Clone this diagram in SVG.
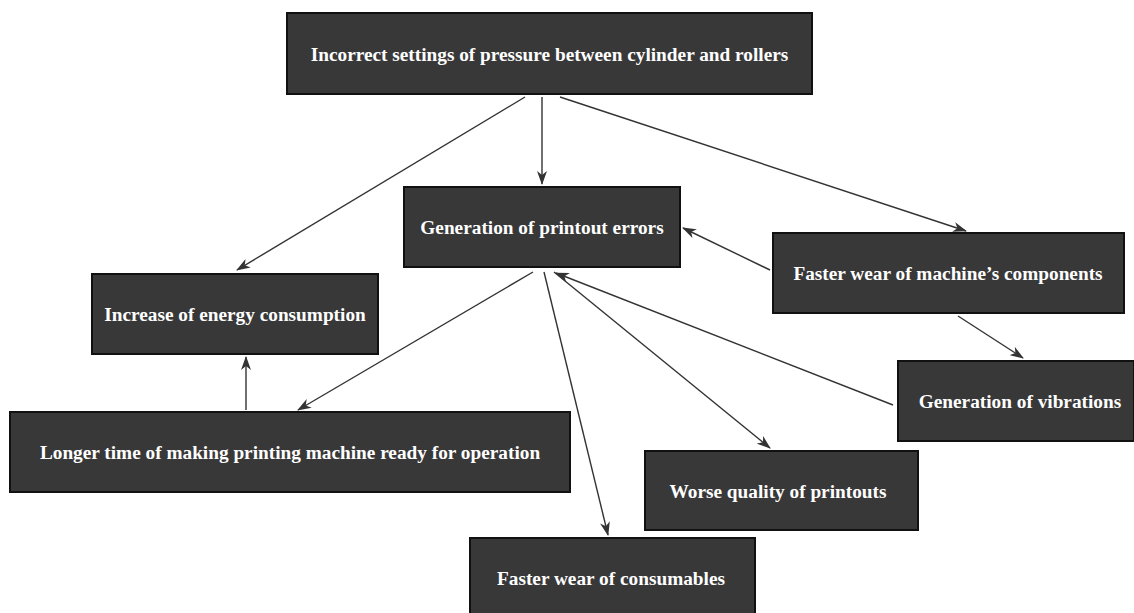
<svg xmlns="http://www.w3.org/2000/svg" width="1134" height="613" viewBox="0 0 1134 613">
<style>
.box{fill:#383838;stroke:#111;stroke-width:2}
.t{font-family:"Liberation Serif",serif;font-weight:bold;font-size:19.3px;fill:#fff;text-anchor:middle;dominant-baseline:central}
.c{stroke:#333;stroke-width:1.4;fill:none;marker-end:url(#ah)}
</style>
<defs>
<marker id="ah" viewBox="0 0 14 10" refX="13" refY="5" markerWidth="14" markerHeight="10" markerUnits="userSpaceOnUse" orient="auto">
<path d="M0,0 L14,5 L0,10 L4,5 Z" fill="#333"/>
</marker>
</defs>
<rect width="1134" height="613" fill="#fff"/>
<g id="connectors">
<line class="c" x1="525" y1="97" x2="237" y2="270"/>
<line class="c" x1="542" y1="97" x2="542" y2="184"/>
<line class="c" x1="560" y1="97" x2="966" y2="231"/>
<line class="c" x1="770" y1="270" x2="683" y2="228"/>
<line class="c" x1="958" y1="316" x2="1023" y2="358"/>
<line class="c" x1="893" y1="405" x2="556" y2="273"/>
<line class="c" x1="533" y1="272" x2="298" y2="410"/>
<line class="c" x1="544" y1="272" x2="608" y2="535"/>
<line class="c" x1="554" y1="272" x2="770" y2="448"/>
<line class="c" x1="246" y1="410" x2="246" y2="357"/>
</g>
<g id="n1"><rect class="box" x="287" y="13" width="525" height="81"/><text class="t" x="549.5" y="54">Incorrect settings of pressure between cylinder and rollers</text></g>
<g id="n2"><rect class="box" x="404" y="187" width="276" height="80"/><text class="t" x="542" y="227">Generation of printout errors</text></g>
<g id="n3"><rect class="box" x="773" y="233" width="351" height="80"/><text class="t" x="948" y="273">Faster wear of machine’s components</text></g>
<g id="n4"><rect class="box" x="92" y="274" width="286" height="80"/><text class="t" x="235" y="314">Increase of energy consumption</text></g>
<g id="n5"><rect class="box" x="898" y="361" width="236" height="80"/><text class="t" x="1020" y="401">Generation of vibrations</text></g>
<g id="n6"><rect class="box" x="10" y="412" width="560" height="80"/><text class="t" x="290" y="452">Longer time of making printing machine ready for operation</text></g>
<g id="n7"><rect class="box" x="645" y="451" width="273" height="79"/><text class="t" x="778" y="491">Worse quality of printouts</text></g>
<g id="n8"><rect class="box" x="470" y="538" width="285" height="80"/><text class="t" x="611" y="578">Faster wear of consumables</text></g>
</svg>
